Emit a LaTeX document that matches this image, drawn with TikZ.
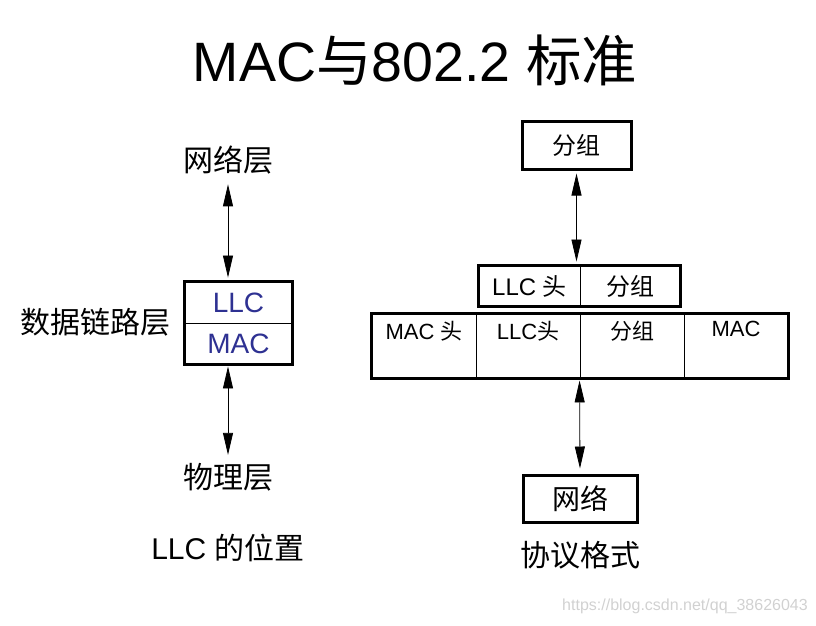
\documentclass[tikz,border=0pt]{standalone}
\usepackage{fontspec}
\setmainfont{Liberation Sans}
\newfontfamily\cjk{Noto Sans CJK SC}
\usepackage{xcolor}
\usepackage{tikz}
\usetikzlibrary{arrows.meta, positioning}

\definecolor{llcblue}{RGB}{46,49,146}

\newcommand{\fs}[1]{\fontsize{#1}{#1}\selectfont}

\begin{document}
\begin{tikzpicture}[x=1pt, y=-1pt,
    every node/.style={inner sep=0pt, font=\fs{28}},
    box/.style={draw, line width=3pt, font=\fs{24}},
    cell/.style={draw, line width=0.9pt, minimum height=40pt},
    fcell/.style={draw, line width=0.9pt, minimum width=104pt, minimum height=64pt},
    link/.style={draw, line width=0.8pt,
                 {Triangle[length=22pt, width=10pt]}-{Triangle[length=22pt, width=10pt]}}
  ]
  \useasboundingbox (0,0) rectangle (816,625);

  % title
  \node (title) at (415,60) {\fs{55.5}MAC{\cjk 与}802.2 {\cjk 标准}};

  % left: position of LLC
  \node (net)  at (228,160) {\fs{30}\cjk 网络层};
  \node[cell, minimum width=107pt, minimum height=41pt, text=llcblue] (llc) at (238.5,302.5) {LLC};
  \node[cell, minimum width=107pt, minimum height=41pt, text=llcblue] (mac) at (238.5,343.5) {MAC};
  \draw[line width=3pt] (llc.north west) rectangle (mac.south east);
  \node (dll)  at (95,322)  {\fs{30}\cjk 数据链路层};
  \node (phy)  at (228,477) {\fs{30}\cjk 物理层};
  \node (pos)  at (228,548) {\fs{30}LLC {\cjk 的位置}};

  \draw[link, shorten <=10pt, shorten >=4pt] (net.south) -- (net.south |- llc.north);
  \draw[link, shorten <=2pt, shorten >=8pt] (net.south |- mac.south) -- (phy.north);

  % right: protocol format
  \node[box, minimum width=109pt, minimum height=48pt] (pkt) at (576.5,145) {\cjk 分组};

  \node[cell, minimum width=101pt, font=\fs{24}] (lhd) at (529.5,286) {LLC {\cjk 头}};
  \node[cell, minimum width=100pt, font=\fs{24}] (lpk) at (630,286)   {\cjk 分组};
  \draw[line width=3pt] (lhd.north west) rectangle (lpk.south east);

  \node[fcell] (c1) at (424,346) {};
  \node[fcell] (c2) at (528,346) {};
  \node[fcell] (c3) at (632,346) {};
  \node[fcell] (c4) at (736,346) {};
  \draw[line width=3pt] (c1.north west) rectangle (c4.south east);
  \node[anchor=north, yshift=-7pt, font=\fs{22}] at (c1.north) {MAC {\cjk 头}};
  \node[anchor=north, yshift=-7pt, font=\fs{22}] at (c2.north) {LLC{\cjk 头}};
  \node[anchor=north, yshift=-7pt, font=\fs{22}] at (c3.north) {\cjk 分组};
  \node[anchor=north, yshift=-7pt, font=\fs{22}] at (c4.north) {MAC};

  \node[box, minimum width=114pt, minimum height=47pt, font=\fs{28}] (nw) at (580,498.5) {\cjk 网络};
  \node (fmt) at (580,555) {\fs{30}\cjk 协议格式};

  \draw[link, shorten <=3pt, shorten >=4pt] (pkt.south) -- (pkt.south |- lhd.north);
  \draw[link, shorten <=2pt, shorten >=5pt] (c3.south west) -- (nw.north);

  \node[text=black!18, font=\fs{16}] (wm) at (685,606) {https://blog.csdn.net/qq\_38626043};
\end{tikzpicture}
\end{document}
